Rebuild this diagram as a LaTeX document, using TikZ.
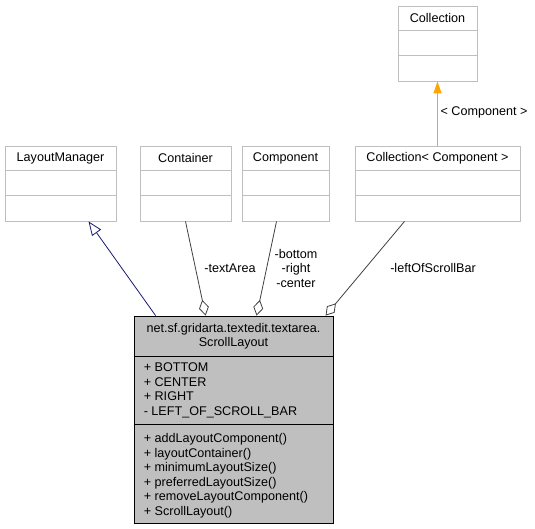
\documentclass[tikz,border=0pt]{standalone}
\usepackage{fontspec}
\setsansfont{Liberation Sans}
\usetikzlibrary{arrows.meta, calc}

\begin{document}
\begin{tikzpicture}[
    x=1pt, y=-1pt,
    every node/.style={font=\sffamily\fontsize{12.6}{14.5}\selectfont},
    classbox/.style={draw=boxcolor, line width=0.8pt, inner sep=0pt, minimum height=75pt},
    boxline/.style={draw=boxcolor, line width=0.8pt},
    assoc/.style={draw=assoccolor, line width=0.8pt, {Diamond[open, length=16pt, width=10pt]}-},
]

\definecolor{boxcolor}{HTML}{BFBFBF}    % light borders of the referenced classes
\definecolor{fillcolor}{HTML}{BFBFBF}   % the class this diagram is about
\definecolor{assoccolor}{HTML}{404040}
\definecolor{inhcolor}{HTML}{191970}
\definecolor{tplcolor}{HTML}{FFA500}

\useasboundingbox (0,0) rectangle (535,529);

% ================================================================
% Referenced classes: title row plus two empty compartments.
% Positions are centres in pixel units, y running down.
% ================================================================
\foreach \name/\cx/\cy/\w/\title in {%
    lm/60.5/183.5/111/LayoutManager,
    ct/185.5/183.5/91/Container,
    cp/285.5/183.5/87/Component,
    cc/437.5/183.5/165/Collection< Component >,
    col/437.5/43.5/79/Collection} {
  \node[classbox, minimum width=\w pt] (\name) at (\cx,\cy) {};
  \draw[boxline] ([yshift=-25pt]\name.north west) -- ([yshift=-25pt]\name.north east);
  \draw[boxline] ([yshift=-50pt]\name.north west) -- ([yshift=-50pt]\name.north east);
  \node (\name-title) at ([yshift=-12.5pt]\name.north) {\title};
}

% ---------------------------------------------------------------- ScrollLayout
\node[draw=black, fill=fillcolor, line width=0.8pt, inner sep=0pt,
      minimum width=199pt, minimum height=207pt] (sl) at (233.5,419.5) {};
\draw[line width=0.8pt] ([yshift=-41pt]sl.north west) -- ([yshift=-41pt]sl.north east);
\draw[line width=0.8pt] ([yshift=-109pt]sl.north west) -- ([yshift=-109pt]sl.north east);

\node[align=center] (sl-title) at ([yshift=-20.5pt]sl.north)
    {net.sf.gridarta.textedit.textarea.\\ScrollLayout};
\node[align=left, anchor=north west, inner sep=0pt] (sl-attr)
    at ([xshift=10pt, yshift=-47pt]sl.north west)
    {+ BOTTOM\\+ CENTER\\+ RIGHT\\- LEFT\_OF\_SCROLL\_BAR};
\node[align=left, anchor=north west, inner sep=0pt] (sl-ops)
    at ([xshift=10pt, yshift=-118pt]sl.north west)
    {+ addLayoutComponent()\\+ layoutContainer()\\+ minimumLayoutSize()\\%
     + preferredLayoutSize()\\+ removeLayoutComponent()\\+ ScrollLayout()};

% ---------------------------------------------------------------- inheritance
\draw[inhcolor, line width=0.8pt, -{Triangle[open, length=14pt, width=11pt]}]
    ([xshift=22pt]sl.north west) -- ([xshift=28pt]lm.south);

% ---------------------------------------------------------------- aggregation
\draw[assoc] ([xshift=72pt]sl.north west) -- (ct.south);
\draw[assoc] ([xshift=123pt]sl.north west) -- ([xshift=-9pt]cp.south);
\draw[assoc] ([xshift=192pt]sl.north west) -- ([xshift=-33pt]cc.south);

\node (lbl-text) at (230,268) {-textArea};
\node[align=center] (lbl-brc) at (296,268) {-bottom\\-right\\-center};
\node (lbl-left) at (433,268) {-leftOfScrollBar};

% ---------------------------------------------------------------- template
\draw[tplcolor, line width=1.1pt, -{Triangle[length=12pt, width=8pt]}]
    (cc.north) -- (col.south);
\node (lbl-tpl) at (484,112) {< Component >};

\end{tikzpicture}
\end{document}
